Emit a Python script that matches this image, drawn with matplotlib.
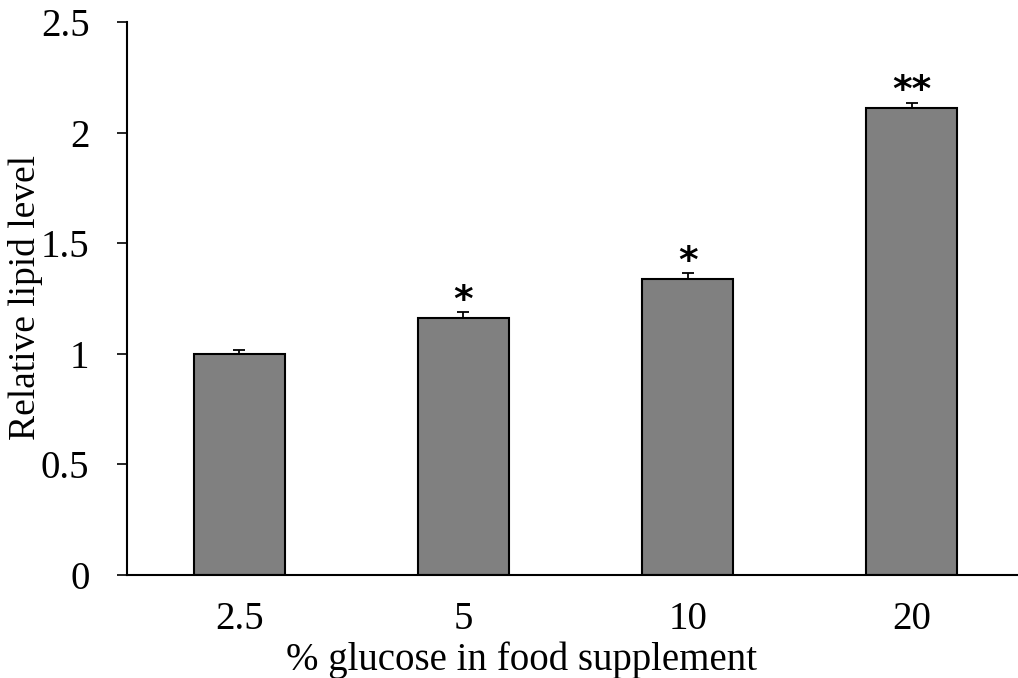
import matplotlib
matplotlib.use("Agg")
import matplotlib.pyplot as plt

# data
categories = ["2.5", "5", "10", "20"]
values = [1.00, 1.16, 1.337, 2.11]
errors = [0.016, 0.028, 0.027, 0.025]
stars = ["", "*", "*", "**"]

plt.rcParams['font.family'] = ['Liberation Serif', 'DejaVu Serif']

fig = plt.figure(figsize=(10.18, 6.78), dpi=100)
W, H = 1018, 678
left, right, top, bottom = 127, 1024, 22, 575
ax = fig.add_axes([left / W, 1 - bottom / H, (right - left) / W, (bottom - top) / H])

x = range(len(categories))
ax.bar(x, values, width=0.405, color='#808080', edgecolor='black', linewidth=1.5, zorder=2)
ax.errorbar(x, values, yerr=[[0] * len(errors), errors], fmt='none', ecolor='black',
            elinewidth=1.3, capsize=4.5, capthick=1.3, zorder=3)

for xi, v, e, s in zip(x, values, errors, stars):
    if s:
        ax.text(xi, v + e - 0.03, s, ha='center', va='bottom', fontsize=27,
                fontfamily='DejaVu Sans', fontweight='bold')

ax.set_xlim(-0.5, 3.5)
ax.set_ylim(0, 2.5)
ax.set_yticks([0, 0.5, 1, 1.5, 2, 2.5])
ax.set_yticklabels(['0', '0.5', '1', '1.5', '2', '2.5'])
ax.set_xticks(list(x))
ax.set_xticklabels(categories)

for sp in ['top', 'right']:
    ax.spines[sp].set_visible(False)
ax.spines['left'].set_linewidth(1.5)
ax.spines['bottom'].set_linewidth(1.5)

ax.tick_params(axis='y', direction='out', length=7, width=1.2, labelsize=28, pad=20)
ax.tick_params(axis='x', length=0, labelsize=28, pad=19)

fig.text(522 / W, 1 - 660 / H, '% glucose in food supplement', ha='center', va='center', fontsize=28)
fig.text(26 / W, 1 - 298 / H, 'Relative lipid level', ha='center', va='center', rotation=90, fontsize=27)

fig.savefig('out.png', dpi=100)
